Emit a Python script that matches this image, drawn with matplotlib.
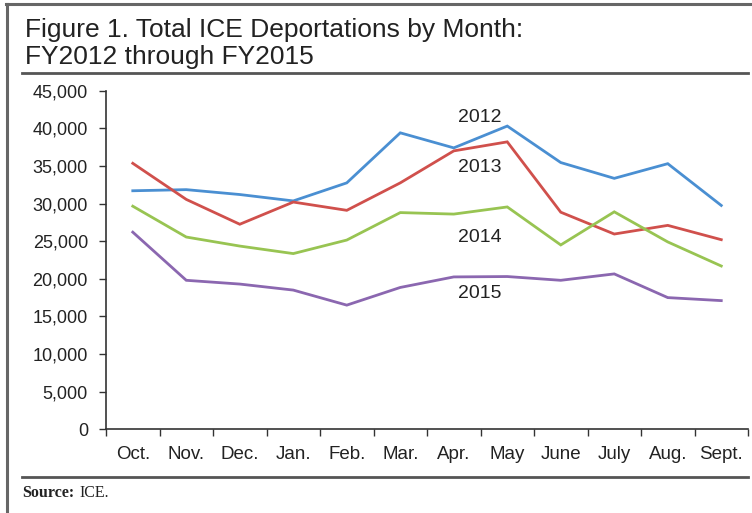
import matplotlib
matplotlib.use("Agg")
import matplotlib.pyplot as plt
from matplotlib.lines import Line2D
from matplotlib.ticker import FuncFormatter, FixedLocator

plt.rcParams['font.family'] = ['Liberation Sans', 'DejaVu Sans']

months = ["Oct.", "Nov.", "Dec.", "Jan.", "Feb.", "Mar.", "Apr.", "May",
          "June", "July", "Aug.", "Sept."]

fy2012 = [31700, 31850, 31200, 30350, 32750, 39400, 37400, 40300,
          35450, 33350, 35300, 29750]
fy2013 = [35350, 30550, 27250, 30200, 29100, 32750, 37000, 38200,
          28850, 25950, 27100, 25200]
fy2014 = [29650, 25550, 24350, 23350, 25150, 28800, 28600, 29550,
          24500, 28900, 24900, 21700]
fy2015 = [26200, 19800, 19300, 18500, 16500, 18850, 20250, 20300,
          19800, 20650, 17500, 17100]

series = [("2012", fy2012, "#4a8fd2", 41500),
          ("2013", fy2013, "#d0504c", 34800),
          ("2014", fy2014, "#98c452", 25500),
          ("2015", fy2015, "#8b67b0", 18100)]

fig = plt.figure(figsize=(7.52, 5.13), dpi=100)
ax = fig.add_axes([0.141, 0.1632, 0.8537, 0.66])

x = range(len(months))
for name, vals, color, label_y in series:
    ax.plot(x, vals, color=color, lw=2.0, solid_joinstyle='miter')
    ax.text(6.48, label_y, name, fontsize=14, ha='center', va='center',
            color='#222222')

ax.set_xlim(-0.5, len(months) - 0.5)
ax.set_ylim(0, 45000)
ax.set_yticks(range(0, 45001, 5000))
ax.yaxis.set_major_formatter(FuncFormatter(lambda v, p: f"{int(v):,}"))

ax.set_xticks(list(x))
ax.set_xticklabels(months)
ax.xaxis.set_minor_locator(FixedLocator([i - 0.5 for i in range(len(months) + 1)]))

for side in ("top", "right"):
    ax.spines[side].set_visible(False)
for side in ("left", "bottom"):
    ax.spines[side].set_color("#333333")
    ax.spines[side].set_linewidth(1.2)

ax.tick_params(axis='y', direction='out', length=5, width=1, color='#333333',
               labelsize=13, pad=8, labelcolor='#222222')
ax.tick_params(axis='x', which='major', length=0, labelsize=13.5, pad=12,
               labelcolor='#222222')
ax.tick_params(axis='x', which='minor', direction='out', length=5, width=1,
               color='#333333')

# title block
fig.text(25 / 752, 1 - 37 / 513, "Figure 1. Total ICE Deportations by Month:",
         fontsize=19, va='baseline', ha='left', color='#222222')
fig.text(25 / 752, 1 - 64 / 513, "FY2012 through FY2015",
         fontsize=19, va='baseline', ha='left', color='#222222')

# frame and rules
def hline(y, x0, x1, lw=2, color='#555555'):
    fig.add_artist(Line2D([x0 / 752, x1 / 752], [1 - y / 513, 1 - y / 513],
                          transform=fig.transFigure, lw=lw, color=color))

hline(4, 6, 752, lw=2.2, color='#666666')
hline(73, 22, 748, lw=2, color='#555555')
hline(477, 22, 748, lw=2, color='#555555')
fig.add_artist(Line2D([7 / 752, 7 / 752], [0, 1 - 4 / 513],
                      transform=fig.transFigure, lw=2.2, color='#666666'))

fig.text(22 / 752, 1 - 493 / 513, "Source:", fontsize=11.5, fontweight='bold',
         family='Liberation Serif', va='center', ha='left', color='#222222')
fig.text(79 / 752, 1 - 493 / 513, "ICE.", fontsize=11.5,
         family='Liberation Serif', va='center', ha='left', color='#222222')

fig.savefig("out.png", dpi=100)
